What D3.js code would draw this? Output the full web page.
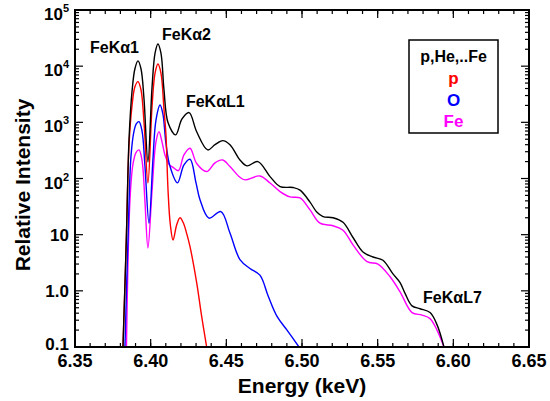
<!DOCTYPE html>
<html>
<head>
<meta charset="utf-8">
<script src="https://cdn.jsdelivr.net/npm/d3@7"></script>
<style>
body { margin: 0; background: #fff; }
svg { display: block; font-family: "Liberation Sans", Arial, sans-serif; font-weight: bold; }
</style>
</head>
<body>
<svg id="chart" width="550" height="401"></svg>
<script>
// [energy keV, relative intensity]
const total = [
	[6.3817, 0.1], [6.3840, 10], [6.3857, 500], [6.3877, 3600], [6.3896, 9000],
	[6.3916, 12400], [6.3936, 9000], [6.3956, 2600], [6.3982, 197], [6.4009, 4200],
	[6.4029, 17000], [6.4048, 24800], [6.4068, 17000], [6.4088, 3800], [6.4115, 980],
	[6.4165, 597], [6.4207, 1150], [6.4254, 1490], [6.4304, 680], [6.4377, 323],
	[6.4425, 400], [6.4476, 472], [6.4524, 400], [6.4590, 214], [6.4636, 168],
	[6.4709, 200], [6.4789, 108], [6.4855, 72], [6.4941, 69], [6.4987, 62],
	[6.5053, 38], [6.5099, 25], [6.5139, 21], [6.5205, 20], [6.5271, 16.6],
	[6.5337, 8.9], [6.5403, 4.9], [6.5469, 4.0], [6.5535, 3.5], [6.5601, 2.0],
	[6.5648, 1.4], [6.5681, 0.9], [6.5727, 0.54], [6.5780, 0.48], [6.5846, 0.41],
	[6.5892, 0.25], [6.5938, 0.1]
];
const proton = [
	[6.3817, 0.1], [6.3837, 5], [6.3857, 400], [6.3877, 2000], [6.3896, 4300],
	[6.3916, 5300], [6.3936, 3800], [6.3956, 1000], [6.3982, 83.5], [6.4009, 1900],
	[6.4029, 7500], [6.4048, 10900], [6.4068, 7500], [6.4088, 1700], [6.4101, 600],
	[6.4115, 60], [6.4130, 15], [6.4148, 8], [6.4172, 15], [6.4194, 20],
	[6.4217, 16], [6.4240, 10], [6.4260, 6.1], [6.4304, 1.4], [6.4337, 0.35],
	[6.4370, 0.1]
];
const oxygen = [
	[6.3830, 0.1], [6.3850, 8], [6.3870, 250], [6.3890, 700], [6.3906, 950],
	[6.3923, 1030], [6.3943, 700], [6.3962, 170], [6.3989, 16], [6.4015, 220],
	[6.4035, 1100], [6.4062, 2040], [6.4081, 1400], [6.4101, 420], [6.4128, 163],
	[6.4177, 83.5], [6.4220, 174], [6.4260, 220], [6.4300, 83], [6.4326, 42],
	[6.4385, 19.7], [6.4464, 25.8], [6.4524, 10.7], [6.4590, 3.6], [6.4656, 2.5],
	[6.4722, 1.9], [6.4777, 0.8], [6.4835, 0.35], [6.4901, 0.2], [6.4980, 0.1]
];
const iron = [
	[6.3840, 0.1], [6.3863, 40], [6.3883, 180], [6.3903, 290], [6.3923, 323],
	[6.3943, 210], [6.3962, 40], [6.3982, 5.8], [6.4009, 60], [6.4035, 450],
	[6.4055, 684], [6.4075, 450], [6.4095, 260], [6.4128, 170], [6.4141, 163],
	[6.4183, 138], [6.4220, 263], [6.4260, 346], [6.4304, 185], [6.4370, 133],
	[6.4425, 190], [6.4476, 214], [6.4524, 163], [6.4590, 105], [6.4623, 94.4],
	[6.4722, 111], [6.4789, 83], [6.4855, 58.5], [6.4921, 47], [6.4987, 45],
	[6.5053, 27.6], [6.5119, 16], [6.5205, 14.4], [6.5271, 12], [6.5337, 6.6],
	[6.5430, 3.3], [6.5502, 3.0], [6.5581, 1.8], [6.5648, 0.96], [6.5727, 0.41],
	[6.5793, 0.37], [6.5846, 0.32], [6.5892, 0.2], [6.5938, 0.1]
];

const series = [
	{ name: 'total', values: total, color: '#000000' },
	{ name: 'p', values: proton, color: '#ff0000' },
	{ name: 'O', values: oxygen, color: '#0000ff' },
	{ name: 'Fe', values: iron, color: '#ff00ff' }
];

const xTicks = [6.35, 6.40, 6.45, 6.50, 6.55, 6.60, 6.65];
const yTicks = [0.1, 1, 10, 100, 1000, 10000, 100000];
const yTickLabels = [['0.1', ''], ['1.0', ''], ['10', ''], ['10', '2'], ['10', '3'], ['10', '4'], ['10', '5']];

const lineLabels = [
	{ text: 'FeKα1', e: 6.3599, i: 17200 },
	{ text: 'FeKα2', e: 6.4075, i: 29200 },
	{ text: 'FeKαL1', e: 6.4233, i: 1880 },
	{ text: 'FeKαL7', e: 6.5800, i: 0.61 }
];

const legendTitle = 'p,He,..Fe';
const legendNames = ['p', 'O', 'Fe'];
const legendColors = ['#ff0000', '#0000ff', '#ff00ff'];

const margin = { top: 10, right: 21, bottom: 54, left: 75 };
const width = 550;
const height = 401;

const $svg = d3.select('#chart');

const x = d3.scaleLinear()
	.domain([6.35, 6.65])
	.range([margin.left, width - margin.right]);
const y = d3.scaleLog()
	.domain([0.1, 100000])
	.range([height - margin.bottom, margin.top]);

const [x0, x1] = x.range();
const [y0, y1] = y.range();

$svg.append('clipPath').attr('id', 'clip')
	.append('rect')
	.attr('x', x0).attr('y', y1)
	.attr('width', x1 - x0).attr('height', y0 - y1);

const line = d3.line()
	.x(d => x(d[0]))
	.y(d => y(d[1]))
	.curve(d3.curveCatmullRom.alpha(0.5));

$svg.append('g')
	.attr('clip-path', 'url(#clip)')
	.selectAll('path')
	.data(series.slice().reverse())
	.join('path')
	.attr('d', d => line(d.values))
	.attr('fill', 'none')
	.attr('stroke', d => d.color)
	.attr('stroke-width', 1.4);

// ticks (inward, mirrored on all four sides)
const xMinor = x.ticks(30);
const yMinor = [];
yTicks.slice(0, -1).forEach(t => {
	for (let k = 2; k <= 9; k++) yMinor.push(t * k);
});

const $ticks = $svg.append('g').attr('stroke', '#000').attr('stroke-width', 1.2);
function xTick(v, len) {
	$ticks.append('line').attr('x1', x(v)).attr('x2', x(v)).attr('y1', y0).attr('y2', y0 - len);
	$ticks.append('line').attr('x1', x(v)).attr('x2', x(v)).attr('y1', y1).attr('y2', y1 + len);
}
function yTick(v, len) {
	$ticks.append('line').attr('y1', y(v)).attr('y2', y(v)).attr('x1', x0).attr('x2', x0 + len);
	$ticks.append('line').attr('y1', y(v)).attr('y2', y(v)).attr('x1', x1).attr('x2', x1 - len);
}
xMinor.forEach(v => xTick(v, 4));
xTicks.forEach(v => xTick(v, 8));
yMinor.forEach(v => yTick(v, 4));
yTicks.forEach(v => yTick(v, 8));

$svg.append('rect')
	.attr('x', x0).attr('y', y1)
	.attr('width', x1 - x0).attr('height', y0 - y1)
	.attr('fill', 'none')
	.attr('stroke', '#000')
	.attr('stroke-width', 2);

// tick labels
$svg.append('g')
	.selectAll('text')
	.data(xTicks)
	.join('text')
	.attr('x', d => x(d))
	.attr('y', y0 + 20)
	.attr('text-anchor', 'middle')
	.attr('font-size', 18)
	.text(d => d.toFixed(2));

const $yl = $svg.append('g')
	.selectAll('text')
	.data(yTicks)
	.join('text')
	.attr('x', x0 - 6)
	.attr('y', (d, i) => y(d) + (yTickLabels[i][1] ? 10 : (i === 0 ? 3 : 6)))
	.attr('text-anchor', 'end')
	.attr('font-size', 17);
$yl.append('tspan').text((d, i) => yTickLabels[i][0]);
$yl.append('tspan')
	.attr('font-size', 11)
	.attr('dy', -8)
	.text((d, i) => yTickLabels[i][1]);

// axis titles
$svg.append('text')
	.attr('x', 302)
	.attr('y', height - 8)
	.attr('text-anchor', 'middle')
	.attr('font-size', 21)
	.text('Energy (keV)');

$svg.append('text')
	.attr('transform', 'translate(30,185) rotate(-90)')
	.attr('text-anchor', 'middle')
	.attr('font-size', 21)
	.text('Relative Intensity');

// line annotations
$svg.append('g')
	.selectAll('text')
	.data(lineLabels)
	.join('text')
	.attr('x', d => x(d.e))
	.attr('y', d => y(d.i))
	.attr('font-size', 16)
	.text(d => d.text);

// legend
const $legend = $svg.append('g').attr('transform', 'translate(409,40)');
$legend.append('rect')
	.attr('width', 89).attr('height', 93)
	.attr('fill', '#fff')
	.attr('stroke', '#000')
	.attr('stroke-width', 1.5);
$legend.append('text')
	.attr('x', 44.5).attr('y', 22)
	.attr('text-anchor', 'middle')
	.attr('font-size', 16)
	.text(legendTitle);
$legend.selectAll('text.entry')
	.data(legendNames)
	.join('text')
	.attr('class', 'entry')
	.attr('x', 44.5)
	.attr('y', (d, i) => 44 + i * 21.5)
	.attr('text-anchor', 'middle')
	.attr('font-size', 17)
	.attr('fill', (d, i) => legendColors[i])
	.text(d => d);
</script>
</body>
</html>
